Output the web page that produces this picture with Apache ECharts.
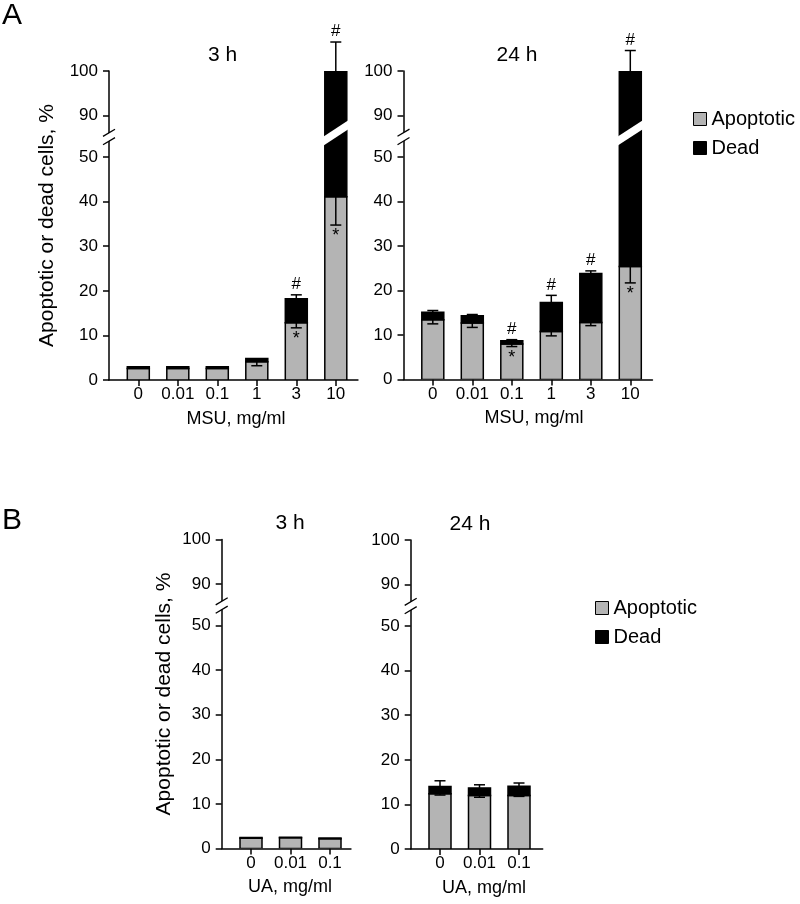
<!DOCTYPE html>
<html><head><meta charset="utf-8">
<script src="https://cdn.jsdelivr.net/npm/echarts@6/dist/echarts.min.js"></script>
<style>html,body{margin:0;padding:0;background:#fff}#c{width:800px;height:904px}</style>
</head><body><div id="c"></div>
<script>
// ---------------- DATA ----------------
const msuCats = ['0', '0.01', '0.1', '1', '3', '10'];
const uaCats = ['0', '0.01', '0.1'];

// A, 3 h (MSU)
const a3Apoptotic    = [2.6, 2.6, 2.6, 4.1, 12.85, 41.1];
const a3ApoptoticErr = [0, 0, 0, 0.9, 1.15, 6.35];
const a3Dead         = [0.35, 0.35, 0.35, 0.7, 5.35, 58.9];
const a3TotalErr     = [0, 0, 0, 0, 0.9, 6.5];
const a3Hash         = [0, 0, 0, 0, 1, 1];
const a3Star         = [0, 0, 0, 0, 1, 1];

// A, 24 h (MSU)
const a24Apoptotic    = [13.4, 12.7, 8.0, 10.8, 12.8, 25.4];
const a24ApoptoticErr = [0.9, 1.0, 0.6, 1.0, 0.7, 3.7];
const a24Dead         = [1.7, 1.6, 0.7, 6.5, 11.0, 74.6];
const a24TotalErr     = [0.4, 0.3, 0.25, 1.6, 0.6, 4.6];
const a24Hash         = [0, 0, 1, 1, 1, 1];
const a24Star         = [0, 0, 1, 0, 0, 1];

// B, 3 h (UA)
const b3Apoptotic    = [2.3, 2.4, 2.2];
const b3ApoptoticErr = [0, 0, 0];
const b3Dead         = [0.15, 0.15, 0.15];
const b3TotalErr     = [0, 0, 0];
const b3Hash         = [0, 0, 0];
const b3Star         = [0, 0, 0];

// B, 24 h (UA)
const b24Apoptotic    = [12.4, 12.0, 12.0];
const b24ApoptoticErr = [0.3, 0.4, 0.2];
const b24Dead         = [1.6, 1.7, 2.1];
const b24TotalErr     = [1.3, 0.7, 0.7];
const b24Hash         = [0, 0, 0];
const b24Star         = [0, 0, 0];

const lowerTicks = [0, 10, 20, 30, 40, 50];
const upperTicks = [90, 100];

// ---------------- LAYOUT ----------------
const FONT = '"Liberation Sans", Arial, Helvetica, sans-serif';
const GRAY = '#b4b4b4';
const PX_PER_CAT = 39.5;
const FIRST_OFFSET = 29.3;
const BAR_W = 22;
const BREAK_LO = 54.5, BREAK_HI = 85.2;

const panels = [
  { cats: msuCats, apo: a3Apoptotic, apoErr: a3ApoptoticErr, dead: a3Dead, totErr: a3TotalErr, hash: a3Hash, star: a3Star,
    title: '3 h', xName: 'MSU, mg/ml', axisX: 109, y100: 71, y0: 380, endPad: 0.56, titleX: 222.5, nameX: 236 },
  { cats: msuCats, apo: a24Apoptotic, apoErr: a24ApoptoticErr, dead: a24Dead, totErr: a24TotalErr, hash: a24Hash, star: a24Star,
    title: '24 h', xName: 'MSU, mg/ml', axisX: 403.5, y100: 71, y0: 379.5, endPad: 0.56, titleX: 517, nameX: 534 },
  { cats: uaCats, apo: b3Apoptotic, apoErr: b3ApoptoticErr, dead: b3Dead, totErr: b3TotalErr, hash: b3Hash, star: b3Star,
    title: '3 h', xName: 'UA, mg/ml', axisX: 221.7, y100: 539.5, y0: 848.5, endPad: 0.53, titleX: 290, nameX: 290 },
  { cats: uaCats, apo: b24Apoptotic, apoErr: b24ApoptoticErr, dead: b24Dead, totErr: b24TotalErr, hash: b24Hash, star: b24Star,
    title: '24 h', xName: 'UA, mg/ml', axisX: 410.7, y100: 540, y0: 849, endPad: 0.6, titleX: 470, nameX: 484 }
];

// ---------------- RENDERERS ----------------
function makeBarRenderer(fill) {
  return function (params, api) {
    const x = api.value(0), base = api.value(1), top = api.value(2);
    const a = api.coord([x, base]), b = api.coord([x, top]);
    return { type: 'rect',
      shape: { x: a[0] - BAR_W / 2, y: b[1], width: BAR_W, height: a[1] - b[1] },
      style: { fill: fill, stroke: '#000', lineWidth: 1.5 } };
  };
}

function makeErrRenderer(lo, hi) {
  return function (params, api) {
    const x = api.value(0), apo = api.value(1), ae = api.value(2), tot = api.value(3), te = api.value(4);
    const hash = api.value(5), star = api.value(6);
    const ch = [];
    const st = { stroke: '#000', lineWidth: 1.5, fill: null };
    const cap = 5.5;
    if (apo >= lo && apo <= hi) {
      const a = api.coord([x, apo]), b = api.coord([x, apo - ae]);
      if (ae > 0) {
        ch.push({ type: 'line', shape: { x1: a[0], y1: a[1], x2: b[0], y2: b[1] }, style: st });
        ch.push({ type: 'line', shape: { x1: b[0] - cap, y1: b[1], x2: b[0] + cap, y2: b[1] }, style: st });
      }
      if (star) {
        ch.push({ type: 'text', x: b[0], y: b[1] + 2,
          style: { text: '*', font: '18px ' + FONT, fill: '#000', align: 'center', verticalAlign: 'top' } });
      }
    }
    if (tot >= lo && tot <= hi) {
      const a = api.coord([x, tot]), b = api.coord([x, tot + te]);
      if (te > 0) {
        ch.push({ type: 'line', shape: { x1: a[0], y1: a[1], x2: b[0], y2: b[1] }, style: st });
        ch.push({ type: 'line', shape: { x1: b[0] - cap, y1: b[1], x2: b[0] + cap, y2: b[1] }, style: st });
      }
      if (hash) {
        ch.push({ type: 'text', x: b[0], y: b[1] - 2,
          style: { text: '#', font: '17px ' + FONT, fill: '#000', align: 'center', verticalAlign: 'bottom' } });
      }
    }
    return { type: 'group', children: ch };
  };
}

function renderBreak(params, api) {
  const x = api.value(0), kind = api.value(1);
  const p = api.coord([x, BREAK_HI]);
  if (kind === 0) {
    const ax = p[0], yb = p[1], w = 6, k = 0.6, d = 4.2;
    return { type: 'group', children: [
      { type: 'polygon', shape: { points: [[ax - w, yb - d + k * w], [ax + w, yb - d - k * w], [ax + w, yb + d - k * w], [ax - w, yb + d + k * w]] },
        style: { fill: '#fff', stroke: null } },
      { type: 'line', shape: { x1: ax - w, y1: yb - d + k * w, x2: ax + w, y2: yb - d - k * w }, style: { stroke: '#000', lineWidth: 1.3 } },
      { type: 'line', shape: { x1: ax - w, y1: yb + d + k * w, x2: ax + w, y2: yb + d - k * w }, style: { stroke: '#000', lineWidth: 1.3 } }
    ] };
  }
  const cx = p[0], yc = p[1] - 4, w = 16, k = 0.65, d = 4.5;
  return { type: 'polygon', shape: { points: [[cx - w, yc - d + k * w], [cx + w, yc - d - k * w], [cx + w, yc + d - k * w], [cx - w, yc + d + k * w]] },
    style: { fill: '#fff', stroke: null } };
}

// ---------------- OPTION ----------------
const grid = [], xAxis = [], yAxis = [], series = [], graphic = [];
const axisLineStyle = { color: '#000', width: 1.5 };
const labelStyle = { color: '#000', fontSize: 17, fontFamily: FONT };

panels.forEach(function (P, i) {
  const n = P.cats.length;
  const s = (P.y0 - P.y100) / (100 - BREAK_HI + BREAK_LO);
  const yb = P.y0 - BREAK_LO * s;
  const xMin = -FIRST_OFFSET / PX_PER_CAT;
  const xMax = n - 1 + P.endPad;
  const gw = (xMax - xMin) * PX_PER_CAT;
  const idx = P.cats.map(function (c, j) { return j; });
  const up = 2 * i, lo = 2 * i + 1;

  grid.push({ left: P.axisX, top: P.y100, width: gw, height: yb - P.y100, outerBoundsMode: 'none', containLabel: false });
  grid.push({ left: P.axisX, top: yb, width: gw, height: P.y0 - yb, outerBoundsMode: 'none', containLabel: false });

  xAxis.push({ type: 'value', gridIndex: up, min: xMin, max: xMax, show: false, splitLine: { show: false } });
  xAxis.push({ type: 'value', gridIndex: lo, min: xMin, max: xMax, splitLine: { show: false },
    axisLine: { show: true, onZero: false, lineStyle: axisLineStyle },
    axisTick: { show: true, customValues: idx, length: 6, lineStyle: axisLineStyle },
    axisLabel: { customValues: idx, margin: 6, formatter: function (v) { return P.cats[Math.round(v)]; }, ...labelStyle } });

  yAxis.push({ type: 'value', gridIndex: up, min: BREAK_HI, max: 100, splitLine: { show: false },
    axisLine: { show: true, onZero: false, lineStyle: axisLineStyle },
    axisTick: { show: true, customValues: upperTicks, length: 6, lineStyle: axisLineStyle },
    axisLabel: { customValues: upperTicks, margin: 11, ...labelStyle } });
  yAxis.push({ type: 'value', gridIndex: lo, min: 0, max: BREAK_LO, splitLine: { show: false },
    axisLine: { show: true, onZero: false, lineStyle: axisLineStyle },
    axisTick: { show: true, customValues: lowerTicks, length: 6, lineStyle: axisLineStyle },
    axisLabel: { customValues: lowerTicks, margin: 11, ...labelStyle } });

  // stacked segments: [category index, segment base, segment top]
  const apoData = P.apo.map(function (v, j) { return [j, 0, v]; });
  const deadData = P.dead.map(function (v, j) { return [j, P.apo[j], P.apo[j] + v]; });
  const errData = P.apo.map(function (v, j) {
    return [j, v, P.apoErr[j], v + P.dead[j], P.totErr[j], P.hash[j], P.star[j]];
  });
  [up, lo].forEach(function (g) {
    series.push({ name: 'Apoptotic', type: 'custom', xAxisIndex: g, yAxisIndex: g, clip: true, z: 3, animation: false,
      itemStyle: { color: GRAY }, renderItem: makeBarRenderer(GRAY), encode: { x: 0, y: [1, 2] }, data: apoData });
    series.push({ name: 'Dead', type: 'custom', xAxisIndex: g, yAxisIndex: g, clip: true, z: 3, animation: false,
      itemStyle: { color: '#000' }, renderItem: makeBarRenderer('#000'), encode: { x: 0, y: [1, 2] }, data: deadData });
    series.push({ type: 'custom', xAxisIndex: g, yAxisIndex: g, z: 8, clip: false, silent: true, animation: false,
      renderItem: g === up ? makeErrRenderer(BREAK_HI, Infinity) : makeErrRenderer(-Infinity, BREAK_LO),
      data: errData });
  });
  const breakData = [[xMin, 0]];
  P.apo.forEach(function (v, j) { if (v + P.dead[j] > BREAK_LO) breakData.push([j, 1]); });
  series.push({ type: 'custom', xAxisIndex: up, yAxisIndex: up, z: 10, clip: false, silent: true, animation: false,
    renderItem: renderBreak, data: breakData });

  graphic.push({ type: 'text', x: P.titleX, y: P.y100 - 16, style: { text: P.title, font: '21px ' + FONT, fill: '#000', align: 'center', verticalAlign: 'middle' } });
  graphic.push({ type: 'text', x: P.nameX, y: P.y0 + 39, style: { text: P.xName, font: '18px ' + FONT, fill: '#000', align: 'center', verticalAlign: 'middle' } });
});

// y-axis titles
graphic.push({ type: 'text', x: 47.5, y: (panels[0].y100 + panels[0].y0) / 2, rotation: Math.PI / 2,
  style: { text: 'Apoptotic or dead cells, %', font: '21px ' + FONT, fill: '#000', align: 'center', verticalAlign: 'middle' } });
graphic.push({ type: 'text', x: 164, y: (panels[2].y100 + panels[2].y0) / 2, rotation: Math.PI / 2,
  style: { text: 'Apoptotic or dead cells, %', font: '21px ' + FONT, fill: '#000', align: 'center', verticalAlign: 'middle' } });
// panel letters
graphic.push({ type: 'text', x: 2, y: 15.5, style: { text: 'A', font: '30px ' + FONT, fill: '#000', align: 'left', verticalAlign: 'middle' } });
graphic.push({ type: 'text', x: 2, y: 520.5, style: { text: 'B', font: '30px ' + FONT, fill: '#000', align: 'left', verticalAlign: 'middle' } });

const legendData = [
  { name: 'Apoptotic', icon: 'rect', itemStyle: { color: GRAY, borderColor: '#000', borderWidth: 1 } },
  { name: 'Dead', icon: 'rect', itemStyle: { color: '#000', borderColor: '#000', borderWidth: 1 } }
];
const legendBase = { orient: 'vertical', itemWidth: 13, itemHeight: 13, itemGap: 9, selectedMode: false,
  textStyle: { fontSize: 20, fontFamily: FONT, color: '#000' }, data: legendData };

const option = {
  animation: false,
  backgroundColor: '#fff',
  textStyle: { fontFamily: FONT },
  grid: grid, xAxis: xAxis, yAxis: yAxis, series: series, graphic: graphic,
  legend: [
    Object.assign({}, legendBase, { left: 688, top: 104 }),
    Object.assign({}, legendBase, { left: 590, top: 593 })
  ]
};

const chart = echarts.init(document.getElementById('c'), null, { renderer: 'canvas' });
chart.setOption(option);
</script>
</body></html>
